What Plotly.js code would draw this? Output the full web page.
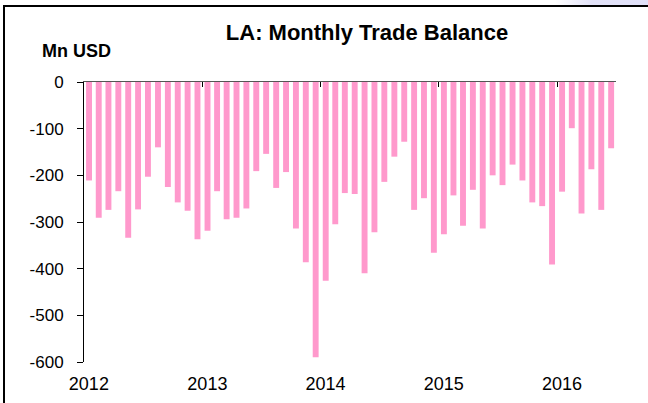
<!DOCTYPE html>
<html>
<head>
<meta charset="utf-8">
<script src="https://cdn.plot.ly/plotly-3.0.1.min.js"></script>
<style>
  html, body { margin: 0; padding: 0; background: #fff; }
  #wrap { position: relative; width: 648px; height: 403px; overflow: hidden; }
  #chart { position: absolute; left: 0; top: 0; width: 648px; height: 403px; }
  #frame { position: absolute; left: 3px; top: 5px; width: 650px; height: 400px;
           border-left: 2px solid #000; border-top: 2px solid #000; pointer-events: none; }
  #strip { position: absolute; left: 555px; top: 0; width: 93px; height: 5px;
           background: linear-gradient(to right, rgba(226,226,248,0), #e2e2f8 40%, #e0e0f8);
           pointer-events: none; }
</style>
</head>
<body>
<div id="wrap">
  <div id="chart"></div>
  <div id="strip"></div>
  <div id="frame"></div>
</div>
<script>
// ---- data ----
const startYear = 2012;
const tradeBalance2012 = [-211, -291, -274, -234, -334, -273, -203, -140, -225, -258, -276, -337];
const tradeBalance2013 = [-319, -234, -294, -291, -271, -191, -154, -227, -193, -314, -386, -590];
const tradeBalance2014 = [-426, -305, -238, -240, -410, -322, -214, -160, -128, -274, -249, -366];
const tradeBalance2015 = [-326, -243, -308, -231, -314, -200, -221, -177, -211, -258, -266, -391];
const tradeBalance2016 = [-235, -99, -282, -187, -274, -142];
const yTicks = [0, -100, -200, -300, -400, -500, -600];
const yTickLabels = ['0', '-100', '-200', '-300', '-400', '-500', '-600'];
const yearBoundaries = ['2012-01-01', '2013-01-01', '2014-01-01', '2015-01-01', '2016-01-01'];
const yearLabelDates = ['2012-01-16', '2013-01-16', '2014-01-16', '2015-01-16', '2016-01-16'];
const yearLabels = ['2012', '2013', '2014', '2015', '2016'];
const titleText = 'LA: Monthly Trade Balance';
const unitText = 'Mn USD';

// ---- build month categories ----
const values = [].concat(tradeBalance2012, tradeBalance2013, tradeBalance2014, tradeBalance2015, tradeBalance2016);
const months = values.map((v, i) => {
  const y = startYear + Math.floor(i / 12);
  const m = (i % 12) + 1;
  return y + '-' + (m < 10 ? '0' + m : m);
});

const FONT = '"Liberation Sans", Arial, sans-serif';
const monthMs = 30.44 * 24 * 3600 * 1000;

const trace = {
  type: 'bar',
  x: months,
  y: values,
  xperiod: 'M1',
  xperiodalignment: 'middle',
  width: 0.6 * monthMs,
  marker: { color: '#ff99cc', line: { width: 0 } },
  hoverinfo: 'x+y'
};

const xRange = ['2012-01-01', '2016-07-01'];

const layout = {
  width: 648,
  height: 403,
  margin: { l: 84, r: 32, t: 82, b: 41, pad: 0 },
  paper_bgcolor: 'rgba(0,0,0,0)',
  plot_bgcolor: 'rgba(0,0,0,0)',
  showlegend: false,
  font: { family: FONT, size: 17, color: '#000' },
  title: {
    text: '<b>' + titleText + '</b>',
    font: { family: FONT, size: 22, color: '#000' },
    xref: 'container', x: 0.5664, xanchor: 'center',
    yref: 'container', y: 0.919, yanchor: 'middle'
  },
  xaxis: {
    type: 'date',
    range: xRange,
    tickvals: yearLabelDates,
    ticktext: yearLabels,
    ticks: '',
    showline: false,
    showgrid: false,
    zeroline: false,
    tickfont: { family: FONT, size: 18, color: '#000' },
    ticklabelstandoff: 9,
    fixedrange: true
  },
  xaxis2: {
    type: 'date',
    overlaying: 'x',
    side: 'top',
    anchor: 'y',
    range: xRange,
    tickvals: yearBoundaries,
    showticklabels: false,
    ticks: 'inside',
    ticklen: 5,
    tickwidth: 1,
    tickcolor: '#000',
    showline: true,
    linecolor: '#555',
    linewidth: 1.5,
    showgrid: false,
    zeroline: false,
    fixedrange: true
  },
  yaxis: {
    range: [-600, 0],
    tickvals: yTicks,
    ticktext: yTickLabels,
    ticks: 'outside',
    ticklen: 6,
    tickwidth: 1,
    tickcolor: '#000',
    showline: true,
    linecolor: '#000',
    linewidth: 1,
    showgrid: false,
    zeroline: false,
    tickfont: { family: FONT, size: 17, color: '#000' },
    ticklabelstandoff: 10,
    fixedrange: true
  },
  annotations: [{
    text: '<b>' + unitText + '</b>',
    xref: 'paper', x: -0.015, xanchor: 'center',
    yref: 'paper', y: 1.109, yanchor: 'middle',
    showarrow: false,
    font: { family: FONT, size: 18, color: '#000' }
  }]
};

// empty trace so the top axis subplot is created
const topAxisTrace = { type: 'scatter', x: [], y: [], xaxis: 'x2', yaxis: 'y', hoverinfo: 'skip', showlegend: false };

Plotly.newPlot('chart', [trace, topAxisTrace], layout, { staticPlot: true, displayModeBar: false });
</script>
</body>
</html>
